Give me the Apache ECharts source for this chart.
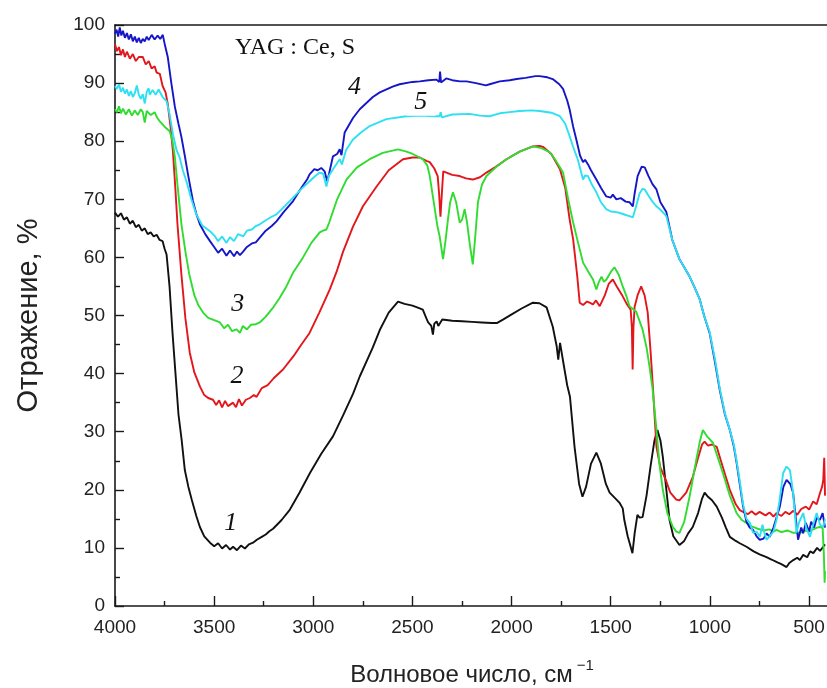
<!DOCTYPE html>
<html>
<head>
<meta charset="utf-8">
<script src="https://cdn.jsdelivr.net/npm/echarts@6/dist/echarts.min.js"></script>
<style>
html,body{margin:0;padding:0;background:#fff;}
#c{width:827px;height:688px;}
</style>
</head>
<body>
<div id="c"></div>
<script>
// ---- data: [wavenumber cm^-1, reflectance %] ----
const curve1 = [[4000,67.7],[3985,67.0],[3970,67.6],[3955,66.5],[3940,66.9],[3925,65.8],[3910,66.3],[3895,65.2],[3880,65.6],[3865,64.6],[3850,65.0],[3835,64.0],[3820,64.3],[3805,63.6],[3790,63.9],[3775,63.0],[3760,62.8],[3750,61.5],[3740,60.5],[3725,55],[3710,47],[3695,40],[3680,33],[3664,28.6],[3648,23.4],[3630,20.5],[3613,18.3],[3590,15.5],[3572,13.6],[3550,12.0],[3521,10.9],[3500,10.3],[3480,10.8],[3460,9.9],[3440,10.5],[3420,9.7],[3405,10.2],[3385,9.6],[3365,10.4],[3345,9.9],[3325,10.6],[3304,10.9],[3285,11.4],[3260,11.9],[3240,12.3],[3220,12.9],[3203,13.3],[3160,14.8],[3118,16.6],[3070,19.5],[3017,22.9],[2960,26.2],[2901,29.2],[2850,32.8],[2800,36.5],[2766,39.5],[2700,44.5],[2665,47.5],[2620,50.5],[2573,52.4],[2540,52.0],[2500,51.7],[2470,51.3],[2448,51.0],[2430,49.5],[2421,48.8],[2405,48.2],[2397,46.7],[2390,48.6],[2378,49.0],[2370,48.2],[2361,48.4],[2350,49.3],[2300,49.1],[2250,49.0],[2200,48.9],[2150,48.8],[2100,48.7],[2075,48.7],[2044,49.3],[2000,50.2],[1950,51.2],[1893,52.2],[1860,52.1],[1824,51.4],[1793,48.1],[1773,44.7],[1765,42.4],[1762,42.4],[1756,45.3],[1740,42],[1720,38],[1706,36],[1683,27.4],[1660,21],[1643,18.8],[1625,20.5],[1600,24.5],[1573,26.4],[1550,24.5],[1525,21],[1506,19.5],[1480,18.6],[1457,17.8],[1440,16.8],[1432,14.8],[1415,12],[1391,9.1],[1380,12.5],[1366,15.7],[1355,15.2],[1340,15.3],[1320,19],[1300,24],[1280,28.5],[1265,30.3],[1250,28.5],[1238,25.7],[1220,20],[1204,14.8],[1185,12],[1154,10.5],[1130,11.2],[1110,12.5],[1087,13.6],[1060,16],[1040,18.5],[1027,19.5],[1010,18.8],[990,18.2],[966,17.1],[940,15.2],[920,13.5],[900,11.9],[870,11.2],[850,10.8],[816,10.2],[780,9.4],[750,8.9],[715,8.4],[690,8.0],[660,7.5],[640,7.2],[614,6.7],[600,7.4],[580,7.9],[560,8.3],[547,7.9],[530,8.8],[510,8.4],[495,9.4],[479,9.1],[460,10.0],[445,9.5],[429,10.2],[420,10.6]];

const curve2 = [[4000,96.7],[3990,95.5],[3980,96.2],[3970,94.8],[3960,95.8],[3950,94.5],[3940,95.4],[3925,94.2],[3910,95.0],[3895,93.8],[3880,94.5],[3860,94.5],[3845,93.2],[3830,93.8],[3815,92.5],[3800,92.9],[3790,91.8],[3774,91.6],[3760,89.5],[3745,88.4],[3734,86.4],[3720,82.5],[3708,78.3],[3696,72],[3685,65.7],[3665,57],[3645,49.5],[3623,43.6],[3600,40.2],[3572,37.8],[3550,36.3],[3530,35.8],[3506,35.5],[3490,34.6],[3475,35.4],[3460,34.2],[3445,35.3],[3430,34.4],[3405,35.0],[3390,34.2],[3375,35.6],[3360,34.5],[3340,35.5],[3320,35.8],[3300,36.3],[3286,36.0],[3260,37.5],[3230,38.0],[3200,39.2],[3153,40.7],[3100,43.0],[3060,45.0],[3019,47.0],[2970,50.5],[2917,54.5],[2883,57.5],[2850,61],[2800,65.3],[2750,68.8],[2681,72.2],[2620,75],[2548,76.9],[2500,77.2],[2463,77.2],[2430,76.6],[2413,76.4],[2390,75.3],[2373,74],[2366,71],[2359,67],[2352,71],[2345,74.8],[2337,74.6],[2300,74.2],[2262,74.0],[2230,73.6],[2196,73.4],[2160,73.8],[2127,74.6],[2080,75.6],[2026,76.9],[1960,78.2],[1893,79.1],[1860,79.2],[1841,79.0],[1800,77.8],[1757,75.2],[1730,72],[1708,66.6],[1690,63.1],[1670,57],[1657,52.2],[1640,51.8],[1620,52.4],[1607,52.2],[1590,51.9],[1575,52.6],[1556,51.6],[1530,53.5],[1510,55.5],[1490,56.2],[1470,55.0],[1440,53.3],[1420,52.0],[1400,51.0],[1394,48],[1390,40.7],[1386,48],[1380,51.5],[1365,53.5],[1347,55.0],[1330,53.5],[1314,50.5],[1300,44],[1287,37.2],[1270,27.4],[1250,23.8],[1223,21.7],[1200,19.5],[1170,18.3],[1154,18.2],[1120,19.5],[1087,22.2],[1060,25.5],[1040,27.8],[1027,28.3],[1010,27.6],[990,27.8],[966,27.4],[945,25.0],[920,22.2],[900,20.0],[870,17.5],[850,16.5],[833,16.2],[810,15.8],[790,16.3],[770,15.7],[750,16.2],[720,15.6],[700,16.1],[680,15.4],[665,16.0],[640,15.5],[620,16.2],[600,15.8],[580,16.4],[560,15.7],[540,16.7],[517,17.1],[500,16.6],[480,18.0],[462,17.5],[445,19.5],[435,20.5],[429,21.7],[424,25.5],[420,19]];

const curve3 = [[4000,85.5],[3990,85.0],[3980,86.0],[3970,84.8],[3960,85.6],[3945,84.6],[3930,85.5],[3915,84.4],[3900,85.3],[3885,84.5],[3870,85.5],[3860,85.0],[3850,83.2],[3840,85.2],[3820,84.5],[3800,85.0],[3790,84.2],[3774,83.4],[3750,82.5],[3724,81.7],[3710,80],[3698,77.2],[3685,72.5],[3665,65.7],[3645,61],[3625,57],[3600,53.5],[3580,51.8],[3556,50.5],[3530,49.6],[3500,49.2],[3471,48.8],[3450,47.8],[3430,48.4],[3410,47.3],[3387,47.6],[3370,47.0],[3355,48.2],[3335,47.6],[3315,48.4],[3290,48.5],[3270,48.8],[3240,49.8],[3200,51.5],[3170,53],[3136,55],[3100,57.5],[3052,60],[3010,62.5],[2968,64.3],[2951,64.6],[2934,64.8],[2920,66],[2880,70],[2833,73.4],[2780,75.5],[2716,76.9],[2650,78.0],[2573,78.6],[2530,78.2],[2499,77.8],[2448,76.9],[2425,75.8],[2413,74],[2395,70],[2375,65.5],[2363,63.6],[2346,59.7],[2333,63],[2321,66.6],[2310,69.5],[2296,71.2],[2280,69.5],[2262,66],[2250,66.5],[2237,68.3],[2225,66],[2210,62],[2196,58.8],[2185,63],[2170,69.5],[2150,72.5],[2127,74],[2080,75.5],[2026,76.9],[1960,78.2],[1893,79.1],[1850,78.8],[1808,78.1],[1780,76.8],[1741,74.6],[1715,70],[1690,66],[1665,62.5],[1640,59.1],[1615,57.6],[1590,56.2],[1573,54.5],[1560,55.8],[1547,56.7],[1535,55.8],[1522,56.2],[1500,57.5],[1482,58.3],[1460,57.0],[1440,55],[1420,53.2],[1406,51.6],[1373,50.7],[1340,47.6],[1320,44.5],[1305,41.2],[1290,37.5],[1270,30.3],[1255,24.5],[1238,20],[1215,16],[1187,13.6],[1170,12.8],[1154,12.6],[1130,14.5],[1103,18.8],[1070,25],[1050,28.5],[1036,30.3],[1015,29.2],[985,28.1],[960,25.5],[935,22.9],[900,19],[866,16],[840,14.8],[816,14.3],[790,13.7],[760,13.3],[730,13.0],[700,13.2],[680,12.8],[665,13.1],[640,12.7],[610,13.0],[580,12.6],[547,12.6],[520,13.0],[500,12.8],[480,13.2],[460,13.5],[446,13.6],[432,13.4],[426,9],[422,4],[420,6]];

const curve4 = [[4000,98.5],[3992,99.2],[3984,98.0],[3976,99.6],[3968,98.2],[3960,99.0],[3950,97.8],[3940,98.6],[3930,97.5],[3920,98.4],[3910,97.2],[3900,98.0],[3890,97.0],[3880,97.8],[3870,96.9],[3860,97.6],[3850,97.2],[3840,98.0],[3830,97.4],[3815,98.3],[3800,97.5],[3785,98.2],[3772,97.6],[3759,98.3],[3748,96.5],[3734,94.5],[3716,90],[3698,85.9],[3680,83],[3665,80.7],[3648,77.5],[3632,74.3],[3607,69.7],[3590,67.5],[3572,65.7],[3545,64.0],[3521,62.8],[3500,61.8],[3480,60.8],[3460,61.5],[3438,60.3],[3420,61.2],[3400,60.2],[3385,61.0],[3370,60.4],[3354,61.0],[3335,61.8],[3310,62.4],[3290,62.6],[3270,63.4],[3240,64.6],[3210,65.4],[3186,66.2],[3150,67.8],[3102,69.7],[3060,72],[3030,73.5],[3019,74.3],[2995,75.2],[2978,75.0],[2960,75.4],[2943,74.8],[2930,73.1],[2920,74.5],[2901,77.4],[2880,77.8],[2867,78.6],[2858,77.6],[2842,81.5],[2800,84],[2766,85.5],[2700,87.6],[2665,88.4],[2600,89.4],[2565,89.8],[2500,90.2],[2463,90.3],[2420,90.5],[2380,90.6],[2365,90.2],[2361,92.0],[2356,90.1],[2330,90.8],[2300,90.5],[2260,90.3],[2227,90.3],[2180,90.0],[2130,89.6],[2111,89.8],[2060,90.3],[2010,90.5],[1975,90.7],[1930,90.9],[1880,91.2],[1859,91.2],[1820,91.0],[1793,90.7],[1760,89.8],[1741,89.0],[1720,87],[1708,85.5],[1690,82.5],[1674,80.3],[1655,77.5],[1640,76.4],[1630,76.8],[1615,76.0],[1600,75],[1573,73.4],[1550,72],[1523,70.5],[1500,70.3],[1490,70.8],[1472,70.0],[1450,70.2],[1425,69.6],[1406,69.5],[1389,68.8],[1380,71],[1365,74],[1345,75.6],[1329,75.5],[1310,74],[1290,72.6],[1270,71.7],[1250,69.5],[1220,67.8],[1190,63],[1154,59.7],[1130,58.3],[1103,56.7],[1080,55],[1052,52.8],[1030,50],[1002,47],[975,42],[951,37.2],[925,33],[900,30.3],[880,27.5],[866,24.7],[850,21],[833,17.1],[816,14.5],[800,13.5],[783,13.1],[765,12],[749,11.4],[730,11.6],[715,12.5],[699,11.9],[680,13.5],[665,15.2],[648,17.1],[630,20.5],[614,21.7],[595,21.0],[581,19.5],[570,16],[556,11.4],[540,13.5],[530,12.5],[517,14.3],[500,12.8],[490,14.5],[475,13.5],[462,15.2],[446,14.8],[432,16],[420,13.5]];

const curve5 = [[4000,89.5],[3990,89.0],[3980,89.8],[3970,88.5],[3960,89.2],[3950,88.2],[3940,88.9],[3930,87.8],[3920,88.6],[3910,87.6],[3900,88.3],[3890,89.6],[3880,88.0],[3870,87.3],[3860,88.1],[3850,86.5],[3840,88.5],[3830,89.1],[3825,88.0],[3810,88.8],[3795,88.0],[3780,88.9],[3774,88.6],[3760,87.6],[3740,86.9],[3724,84.5],[3708,81.2],[3690,78.5],[3674,77.2],[3658,75],[3640,73.1],[3615,70],[3590,67.4],[3560,65.5],[3521,64.5],[3500,63.8],[3480,62.8],[3460,63.6],[3438,62.5],[3420,63.5],[3400,62.8],[3380,64.0],[3354,63.6],[3335,64.6],[3310,64.8],[3290,65.4],[3270,65.7],[3240,66.4],[3210,67.0],[3186,67.4],[3150,68.6],[3102,70.3],[3060,71.8],[3019,73.1],[2990,74.0],[2968,74.6],[2950,74.4],[2934,72.2],[2922,74.0],[2900,75.2],[2867,76.9],[2856,76.0],[2850,75.7],[2835,78.5],[2800,80.3],[2760,81.5],[2716,82.6],[2632,83.8],[2531,84.3],[2450,84.4],[2400,84.3],[2363,84.3],[2358,85.0],[2352,84.1],[2300,84.6],[2212,84.7],[2160,84.4],[2111,84.3],[2060,84.8],[2010,85.0],[1960,85.2],[1900,85.3],[1859,85.2],[1800,84.9],[1757,84.3],[1730,83],[1708,80.9],[1690,79],[1667,76.9],[1640,73.4],[1630,74.1],[1615,74.0],[1595,72.5],[1573,71.2],[1550,69.5],[1523,68.3],[1500,67.9],[1472,67.8],[1450,67.6],[1425,67.3],[1406,67.1],[1389,66.9],[1375,68.5],[1355,71],[1340,71.8],[1329,71.7],[1310,70.6],[1290,69.6],[1270,68.8],[1250,68.2],[1220,67.1],[1190,63],[1154,59.7],[1130,58.3],[1103,56.7],[1080,55],[1052,52.8],[1030,50],[1002,47.2],[975,42.5],[951,37.5],[925,33.2],[900,30.3],[880,27.8],[866,25],[850,21.5],[833,17.5],[816,15.0],[799,14.3],[783,12.6],[765,12.8],[749,11.9],[735,14.0],[725,12.5],[715,11.4],[700,12.0],[680,12.8],[665,14.8],[650,18],[631,22.9],[614,24.0],[597,23.4],[581,19.5],[570,15],[564,12.6],[550,14.5],[530,16],[515,13.5],[496,11.9],[480,14.0],[462,16],[445,14.0],[429,13.6],[420,15]];

const seriesNames = ['1','2','3','4','5'];
const seriesColors = ['#111111','#e3161b','#30dc30','#1616c8','#2ee0f2'];
const xTicksMin = 500, xTicksMax = 4000, xTickStep = 500;
const xDataMin = 400;
const yMin = 0, yMax = 100, yStep = 10;

// curve-number labels placed in data coordinates [wavenumber, %]
const curveLabels = [
  {text:'1', at:[3417,14.3]},
  {text:'2', at:[3385,39.5]},
  {text:'3', at:[3381,51.9]},
  {text:'4', at:[2792,89.3]},
  {text:'5', at:[2458,86.7], box:true}
];
const sampleTitle = {text:'YAG : Ce, S', at:[3395,96.1]};

const chart = echarts.init(document.getElementById('c'), null, {renderer:'canvas'});
const sans = 'Liberation Sans, Arial, sans-serif';
const serif = 'Liberation Serif, Times New Roman, serif';
const axisCol = '#1a1a1a';

const allCurves = [curve1, curve2, curve3, curve4, curve5];

const option = {
  backgroundColor:'#fff',
  animation:false,
  grid:[
    {left:115, top:25, width:714, bottom:82, containLabel:false, outerBoundsMode:'none'},
    {left:115, top:25, width:694, bottom:82, containLabel:false, outerBoundsMode:'none'}
  ],
  xAxis:[
    {gridIndex:0, type:'value', min:xDataMin, max:xTicksMax, inverse:true,
     axisLine:{show:true, onZero:false, lineStyle:{color:axisCol, width:1.6}},
     axisTick:{show:false}, axisLabel:{show:false}, splitLine:{show:false},
     name:'{a|Волновое число, см}{s|−1}', nameLocation:'middle', nameGap:52,
     nameTextStyle:{fontFamily:sans, color:'#222',
       rich:{a:{fontFamily:sans, fontSize:24, color:'#222', lineHeight:34},
             s:{fontFamily:sans, fontSize:15, color:'#222', lineHeight:16, verticalAlign:'top', padding:[0,0,0,4]}}}},
    {gridIndex:0, type:'value', position:'top', min:xDataMin, max:xTicksMax, inverse:true,
     axisLine:{show:true, onZero:false, lineStyle:{color:axisCol, width:1.6}},
     axisTick:{show:false}, axisLabel:{show:false}, splitLine:{show:false}},
    {gridIndex:1, type:'value', min:xTicksMin, max:xTicksMax, interval:xTickStep, inverse:true,
     axisLine:{show:false, onZero:false},
     axisTick:{show:true, inside:true, length:10, lineStyle:{color:axisCol, width:1.4}},
     minorTick:{show:true, splitNumber:2, length:5, lineStyle:{color:axisCol, width:1.4}},
     axisLabel:{show:true, margin:12, fontFamily:sans, fontSize:19, color:'#222', formatter:v=>String(v)},
     splitLine:{show:false}}
  ],
  yAxis:[
    {gridIndex:0, type:'value', min:yMin, max:yMax, interval:yStep,
     axisLine:{show:true, onZero:false, lineStyle:{color:axisCol, width:1.6}},
     axisTick:{show:true, inside:true, length:9, lineStyle:{color:axisCol, width:1.4}},
     minorTick:{show:true, splitNumber:2, length:5, lineStyle:{color:axisCol, width:1.4}},
     axisLabel:{show:true, margin:10, fontFamily:sans, fontSize:19, color:'#222', formatter:v=>String(v)},
     splitLine:{show:false},
     name:'Отражение, %', nameLocation:'middle', nameGap:72,
     nameTextStyle:{fontFamily:sans, fontSize:29, color:'#222'}},
    {gridIndex:1, type:'value', min:yMin, max:yMax, show:false}
  ],
  series: allCurves.map((c,i)=>({
    name:seriesNames[i], type:'line', xAxisIndex:0, yAxisIndex:0,
    data:c, showSymbol:false, symbol:'none', smooth:false,
    lineStyle:{color:seriesColors[i], width:1.9},
    itemStyle:{color:seriesColors[i]}, z:2+i
  }))
};
chart.setOption(option);

// annotations positioned through the chart's own coordinate system
const finder = {xAxisIndex:0, yAxisIndex:0};
const graphics = [];
const tp = chart.convertToPixel(finder, sampleTitle.at);
graphics.push({type:'text', x:tp[0], y:tp[1], z:20,
  style:{text:sampleTitle.text, font:'24px '+serif, fill:'#111', align:'left', verticalAlign:'middle'}});
curveLabels.forEach(l=>{
  const p = chart.convertToPixel(finder, l.at);
  const st = {text:l.text, font:'italic 26px '+serif, fill:'#111', align:'center', verticalAlign:'middle'};
  if (l.box) { st.backgroundColor = '#fff'; st.padding = [1,8,0,8]; }
  graphics.push({type:'text', x:p[0], y:p[1], z:20, style:st});
});
chart.setOption({graphic:graphics});
</script>
</body>
</html>
